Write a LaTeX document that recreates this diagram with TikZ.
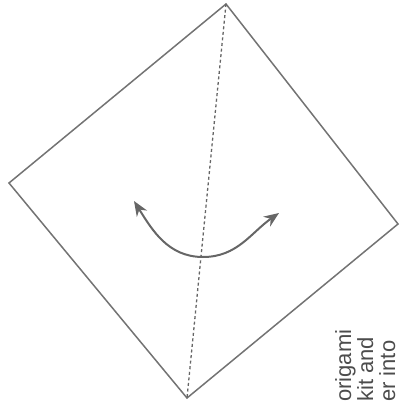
\documentclass[tikz,border=0pt]{standalone}
\usepackage{fontspec}
\setmainfont{Liberation Sans}
\usetikzlibrary{positioning,arrows.meta}

\begin{document}
\begin{tikzpicture}[x=1pt, y=-1pt, line join=miter,
	paper/.style={draw=black!55, line width=1.5pt},
	crease/.style={draw=black!60, line width=1.3pt, dash pattern=on 3pt off 2.6pt},
	turn/.style={draw=black!60, line width=2pt, {Stealth[length=15pt,width=12pt]}-{Stealth[length=15pt,width=12pt]}},
	caption/.style={rotate=90, anchor=north west, inner sep=0pt, align=left, text=black!70, font=\fontsize{22}{22}\selectfont}]
	\useasboundingbox (0,0) rectangle (403,404);
	% corners of the sheet
	\coordinate (T) at (226,4);
	\coordinate (R) at (398,224);
	\coordinate (B) at (187,398);
	\coordinate (L) at (9,183);
	\draw[paper] (T) -- (R) -- (B) -- (L) -- cycle;
	\draw[crease] (T) -- (B);
	% fold and unfold
	\coordinate (a) at (134,201);
	\coordinate (m) at (203,257);
	\coordinate (b) at (279,213);
	\draw[turn] (a) to[out=-58, in=180] (m) to[out=0, in=-145] (b);
	\node[caption] (txt) at (335,402) {origami\\kit and\\er into};
\end{tikzpicture}
\end{document}
